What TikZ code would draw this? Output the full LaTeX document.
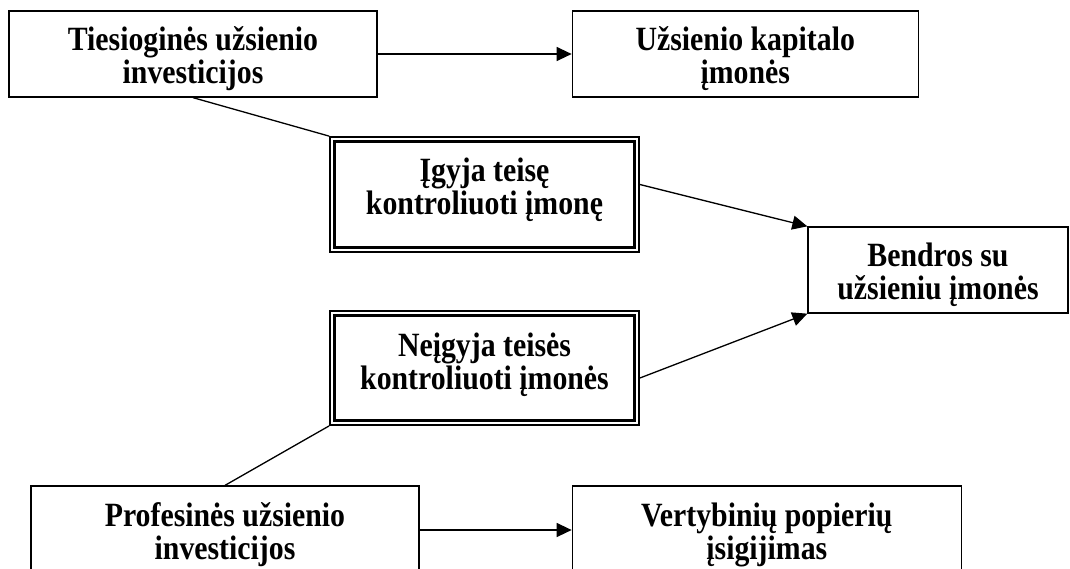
\documentclass[tikz,border=0pt]{standalone}
\usepackage{fontspec}
\setmainfont{Liberation Serif}
\usepackage{graphicx}
\usepackage{tikz}
\usetikzlibrary{arrows.meta}
\usetikzlibrary{positioning}
\newcommand{\boxtext}[2][-6pt]{\raisebox{#1}[\height][\depth]{\scalebox{1}[1.14]{\begin{tabular}{@{}c@{}}#2\end{tabular}}}}

\begin{document}
\begin{tikzpicture}[x=1pt,y=-1pt,line width=1.3pt,
  box/.style={draw,rectangle,align=center,inner sep=0pt,font=\bfseries\fontsize{29.8}{27}\selectfont},
  dbox/.style={box,line width=1.8pt,minimum width=309pt},
  innerframe/.style={line width=2.4pt},
  arr/.style={-{Triangle[length=15pt,width=14pt]}}]
  \useasboundingbox (0,0) rectangle (1070,568);
  \clip (0,0) rectangle (1070,568);
  \node (1) at (193,54)[box,minimum width=368pt,minimum height=86pt]{\boxtext{Tiesioginės užsienio\\investicijos}};
  \node[right=194pt of 1](2)[box,minimum width=346pt,minimum height=86pt]{\boxtext{Užsienio kapitalo\\įmonės}};
  \node (3) at (484.5,194.5)[dbox,minimum height=115pt]{\boxtext[4pt]{Įgyja teisę\\kontroliuoti įmonę}};
  \node (4) at (938,270)[box,minimum width=260pt,minimum height=86pt]{\boxtext{Bendros su\\užsieniu įmonės}};
  \node (5) at (484.5,368)[dbox,minimum height=114pt]{\boxtext[2pt]{Neįgyja teisės\\kontroliuoti įmonės}};
  \node (6) at (225,530)[box,minimum width=388pt,minimum height=88pt]{\boxtext{Profesinės užsienio\\investicijos}};
  \node[right=152pt of 6](7)[box,minimum width=389pt,minimum height=88pt]{\boxtext{Vertybinių popierių\\įsigijimas}};

  \draw[innerframe]([shift={(5.5pt,-5.5pt)}]3.north west) rectangle ([shift={(-5.5pt,5.5pt)}]3.south east);
  \draw[innerframe]([shift={(5.5pt,-5.5pt)}]5.north west) rectangle ([shift={(-5.5pt,5.5pt)}]5.south east);

  \draw(1.south)--(3.north west);
  \draw(6.north)--(5.south west);
  \draw[arr](1.east)--(2.west);
  \draw[arr]([yshift=10pt]3.east)--(4.north west);
  \draw[arr]([yshift=-10pt]5.east)--(4.south west);
  \draw[arr](6.east)--(7.west);
\end{tikzpicture}
\end{document}
